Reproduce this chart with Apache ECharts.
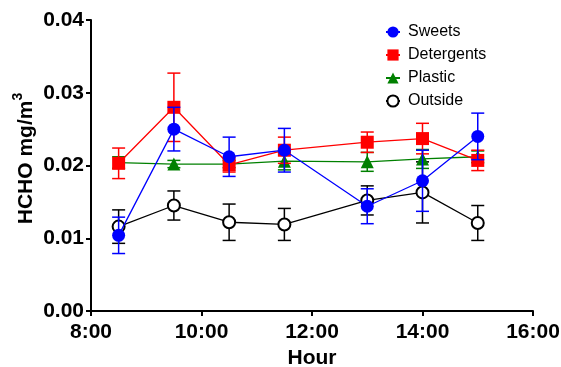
<!DOCTYPE html>
<html>
<head>
<meta charset="utf-8">
<script src="https://cdn.jsdelivr.net/npm/echarts@6/dist/echarts.min.js"></script>
<style>
  html, body { margin: 0; padding: 0; background: #fff; }
  #chart { width: 561px; height: 367px; }
</style>
</head>
<body>
<div id="chart"></div>
<script>
// Sampling times (decimal hours)
const hours = [8.5, 9.5, 10.5, 11.5, 13, 14, 15];

// HCHO concentration, mg/m3 (mean and standard deviation)
const sweets      = [0.0104, 0.0250, 0.0212, 0.0221, 0.0144, 0.0179, 0.0240];
const sweetsSD    = [0.0025, 0.0030, 0.0027, 0.0030, 0.0024, 0.0042, 0.0032];
const detergents  = [0.0203, 0.0280, 0.0201, 0.0221, 0.0232, 0.0237, 0.0207];
const detergentsSD= [0.0021, 0.0047, 0.0010, 0.0018, 0.0014, 0.0021, 0.0014];
const plastic     = [0.0204, 0.0202, 0.0202, 0.0206, 0.0205, 0.0209, 0.0212];
const plasticSD   = [0.0008, 0.0005, 0.0005, 0.0012, 0.0013, 0.0013, 0.0008];
const outside     = [0.0116, 0.0145, 0.0122, 0.0119, 0.0152, 0.0163, 0.0121];
const outsideSD   = [0.0023, 0.0020, 0.0025, 0.0022, 0.0020, 0.0042, 0.0024];

const seriesNames = ['Sweets', 'Detergents', 'Plastic', 'Outside'];
const xTicks = [8, 10, 12, 14, 16];
const yTicks = [0, 0.01, 0.02, 0.03, 0.04];

const FONT = '"Liberation Sans", Arial, sans-serif';

function pairs(vals) {
  return hours.map((h, i) => [h, vals[i]]);
}
function errRows(vals, sd) {
  return hours.map((h, i) => [h, vals[i] - sd[i], vals[i] + sd[i]]);
}

// Vertical error bar with caps, drawn in data coordinates
function errorBarRenderer(color) {
  return function (params, api) {
    const x = api.value(0);
    const lo = api.coord([x, api.value(1)]);
    const hi = api.coord([x, api.value(2)]);
    const half = 6.5;
    const style = { stroke: color, lineWidth: 1.5, fill: null };
    return {
      type: 'group',
      children: [
        { type: 'line', shape: { x1: hi[0], y1: hi[1], x2: lo[0], y2: lo[1] }, style },
        { type: 'line', shape: { x1: hi[0] - half, y1: hi[1], x2: hi[0] + half, y2: hi[1] }, style },
        { type: 'line', shape: { x1: lo[0] - half, y1: lo[1], x2: lo[0] + half, y2: lo[1] }, style }
      ]
    };
  };
}

function group(name, vals, sd, color, symbol, size, zBase, extraItem) {
  return [
    {
      name: name + ' SD',
      type: 'custom',
      renderItem: errorBarRenderer(color),
      data: errRows(vals, sd),
      encode: { x: 0, y: [1, 2] },
      z: zBase,
      silent: true
    },
    {
      name: name,
      type: 'line',
      data: pairs(vals),
      symbol: symbol,
      symbolSize: size,
      showAllSymbol: true,
      lineStyle: { color: color, width: 1.3 },
      itemStyle: Object.assign({ color: color }, extraItem || {}),
      z: zBase + 1
    }
  ];
}

const chart = echarts.init(document.getElementById('chart'), null, { renderer: 'canvas' });

chart.setOption({
  animation: false,
  backgroundColor: '#fff',
  grid: { left: 91, right: 28, top: 20, bottom: 56, containLabel: false, outerBoundsMode: 'none' },
  legend: {
    data: seriesNames,
    orient: 'vertical',
    left: 380,
    top: 19,
    itemWidth: 14,
    itemHeight: 14,
    itemGap: 7,
    textStyle: { fontFamily: FONT, fontSize: 16, color: '#000', padding: [0, 0, 0, 3] }
  },
  xAxis: {
    type: 'value',
    min: xTicks[0],
    max: xTicks[xTicks.length - 1],
    interval: 2,
    name: 'Hour',
    nameLocation: 'middle',
    nameGap: 37,
    nameMoveOverlap: false,
    nameTextStyle: { fontFamily: FONT, fontSize: 21, fontWeight: 'bold', color: '#000' },
    axisLine: { lineStyle: { color: '#000', width: 2 } },
    axisTick: { length: 5, lineStyle: { color: '#000', width: 2 } },
    axisLabel: {
      margin: 11,
      fontFamily: FONT, fontSize: 21, fontWeight: 'bold', color: '#000',
      formatter: v => Math.round(v) + ':00'
    },
    splitLine: { show: false }
  },
  yAxis: {
    type: 'value',
    min: yTicks[0],
    max: yTicks[yTicks.length - 1],
    interval: 0.01,
    name: '{m|HCHO mg/m}{s|3}',
    nameLocation: 'middle',
    nameGap: 54,
    nameMoveOverlap: false,
    nameRotate: 90,
    nameTextStyle: {
      fontFamily: FONT, fontSize: 21, fontWeight: 'bold', color: '#000',
      padding: [0, 0, 0, 14],
      rich: {
        m: { fontFamily: FONT, fontSize: 21, fontWeight: 'bold', color: '#000', verticalAlign: 'bottom' },
        s: { fontFamily: FONT, fontSize: 14, fontWeight: 'bold', color: '#000', verticalAlign: 'bottom', padding: [0, 0, 12, 0] }
      }
    },
    axisLine: { show: true, lineStyle: { color: '#000', width: 2 } },
    axisTick: { show: true, length: 5, lineStyle: { color: '#000', width: 2 } },
    axisLabel: {
      margin: 7,
      fontFamily: FONT, fontSize: 21, fontWeight: 'bold', color: '#000',
      formatter: v => v.toFixed(2)
    },
    splitLine: { show: false }
  },
  series: [].concat(
    group('Outside', outside, outsideSD, '#000000', 'emptyCircle', 12, 2, { borderWidth: 1.3 }),
    group('Plastic', plastic, plasticSD, '#008000', 'triangle', 13, 4),
    group('Detergents', detergents, detergentsSD, '#ff0000', 'rect', 13, 6),
    group('Sweets', sweets, sweetsSD, '#0000ff', 'circle', 13, 8)
  )
});
</script>
</body>
</html>
